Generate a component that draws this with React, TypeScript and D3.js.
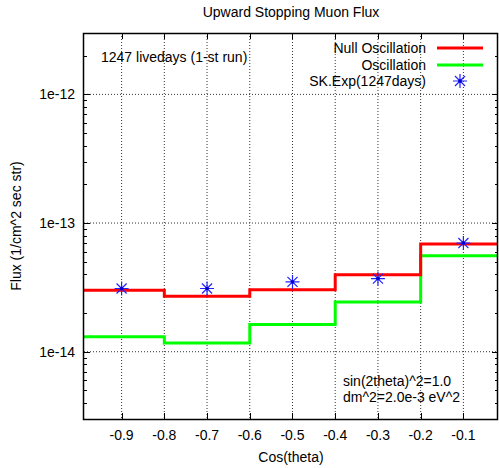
import React, { useRef, useEffect } from "react";
import { select, scaleLinear, scaleLog, line, curveStepAfter } from "d3";

// bin edges along cos(theta)
const binEdges = [-1.0, -0.8, -0.6, -0.4, -0.2, 0.0];
const nullOsc = [3.0e-14, 2.7e-14, 3.03e-14, 3.97e-14, 6.86e-14];
const withOsc = [1.31e-14, 1.17e-14, 1.63e-14, 2.44e-14, 5.58e-14];
const dataX = [-0.9, -0.7, -0.5, -0.3, -0.1];
const dataY = [3.1e-14, 3.1e-14, 3.49e-14, 3.7e-14, 6.99e-14];
const xTicks = [-0.9, -0.8, -0.7, -0.6, -0.5, -0.4, -0.3, -0.2, -0.1];
const yTicks = [1e-14, 1e-13, 1e-12];
const yTickLabels = ["1e-14", "1e-13", "1e-12"];
const legendItems = ["Null Oscillation", "Oscillation", "SK.Exp(1247days)"];

const WIDTH = 499;
const HEIGHT = 468;
const FONT = "'Liberation Sans', Arial, sans-serif";

export default function App() {
  const svgRef = useRef<SVGSVGElement>(null);

  useEffect(() => {
    const svg = select(svgRef.current);
    svg.selectAll("*").remove();

    const margin = { left: 84, right: 1, top: 33, bottom: 49 };
    const x = scaleLinear()
      .domain([-0.988, -0.019])
      .range([margin.left, WIDTH - margin.right]);
    const y = scaleLog()
      .domain([3e-15, 3e-12])
      .range([HEIGHT - margin.bottom, margin.top]);
    const [x0, x1] = x.range();
    const [yb, yt] = y.range();

    svg
      .append("defs")
      .append("clipPath")
      .attr("id", "plotclip")
      .append("rect")
      .attr("x", x0)
      .attr("y", yt)
      .attr("width", x1 - x0)
      .attr("height", yb - yt);

    // grid
    const grid = svg.append("g").attr("stroke", "#333").attr("stroke-width", 1).attr("stroke-dasharray", "1,2");
    xTicks.forEach((t) => {
      grid.append("line").attr("x1", x(t)).attr("x2", x(t)).attr("y1", yt).attr("y2", yb);
    });
    yTicks.forEach((t) => {
      grid.append("line").attr("x1", x0).attr("x2", x1).attr("y1", y(t)).attr("y2", y(t));
    });

    // ticks
    const ticks = svg.append("g").attr("stroke", "#000").attr("stroke-width", 1);
    xTicks.forEach((t) => {
      const px = Math.round(x(t)) + 0.5;
      ticks.append("line").attr("x1", px).attr("x2", px).attr("y1", yb).attr("y2", yb - 6);
      ticks.append("line").attr("x1", px).attr("x2", px).attr("y1", yt).attr("y2", yt + 6);
    });
    const minor: number[] = [];
    for (let e = -15; e <= -12; e++) {
      for (let m = 1; m <= 9; m++) {
        const v = m * Math.pow(10, e);
        if (v >= 3e-15 && v <= 3e-12) minor.push(v);
      }
    }
    minor.forEach((v) => {
      const major = yTicks.some((t) => Math.abs(t - v) / t < 1e-6);
      const len = major ? 6 : 3;
      const py = Math.round(y(v)) + 0.5;
      ticks.append("line").attr("x1", x0).attr("x2", x0 + len).attr("y1", py).attr("y2", py);
      ticks.append("line").attr("x1", x1).attr("x2", x1 - len).attr("y1", py).attr("y2", py);
    });

    // step curves
    const stepLine = line<number>()
      .x((_, i) => x(binEdges[i]))
      .y((d) => y(d))
      .curve(curveStepAfter);
    const plot = svg.append("g").attr("clip-path", "url(#plotclip)");
    plot
      .append("path")
      .datum([...withOsc, withOsc[withOsc.length - 1]])
      .attr("d", stepLine)
      .attr("fill", "none")
      .attr("stroke", "#00ff00")
      .attr("stroke-width", 3);
    plot
      .append("path")
      .datum([...nullOsc, nullOsc[nullOsc.length - 1]])
      .attr("d", stepLine)
      .attr("fill", "none")
      .attr("stroke", "#ff0000")
      .attr("stroke-width", 3);

    const r = 7;
    const d = r * 0.72;
    const starPath = `M${-r},0H${r}M0,${-r}V${r}M${-d},${-d}L${d},${d}M${-d},${d}L${d},${-d}`;
    const drawStar = (g: any, cx: number, cy: number) => {
      const s = g.append("g").attr("transform", `translate(${cx},${cy})`);
      s.append("path").attr("d", starPath).attr("stroke", "#2222ff").attr("stroke-width", 1.2).attr("fill", "none");
      s.append("circle").attr("r", 1.8).attr("fill", "#0000cc");
    };
    dataX.forEach((v, i) => drawStar(plot, x(v), y(dataY[i])));

    // frame
    svg
      .append("rect")
      .attr("x", x0 - 0.5)
      .attr("y", yt + 0.5)
      .attr("width", x1 - x0)
      .attr("height", yb - yt)
      .attr("fill", "none")
      .attr("stroke", "#000")
      .attr("stroke-width", 1.5);

    const text = (tx: number, ty: number, s: string, anchor = "start") =>
      svg
        .append("text")
        .attr("x", tx)
        .attr("y", ty)
        .attr("text-anchor", anchor)
        .attr("dominant-baseline", "central")
        .attr("font-family", FONT)
        .attr("font-size", 14)
        .attr("fill", "#000")
        .text(s);

    xTicks.forEach((t) => text(x(t), 435, String(t), "middle"));
    yTicks.forEach((t, i) => text(75, y(t), yTickLabels[i], "end"));
    text((x0 + x1) / 2, 12, "Upward Stopping Muon Flux", "middle");
    text((x0 + x1) / 2, 457, "Cos(theta)", "middle");
    text(0, 0, "Flux (1/cm^2 sec str)", "middle").attr(
      "transform",
      `translate(16,${(yt + yb) / 2}) rotate(-90)`
    );
    text(101, 57, "1247 livedays (1-st run)");
    text(343, 381, "sin(2theta)^2=1.0");
    text(343, 397, "dm^2=2.0e-3 eV^2");

    // legend
    const legendY = [48, 65, 81];
    const legendColors = ["#ff0000", "#00ff00"];
    legendItems.forEach((s, i) => {
      text(426, legendY[i], s, "end");
      if (i < 2) {
        svg
          .append("line")
          .attr("x1", 437)
          .attr("x2", 483)
          .attr("y1", legendY[i])
          .attr("y2", legendY[i])
          .attr("stroke", legendColors[i])
          .attr("stroke-width", 3);
      } else {
        drawStar(svg, 460, legendY[i]);
      }
    });
  }, []);

  return (
    <svg
      ref={svgRef}
      width={WIDTH}
      height={HEIGHT}
      style={{ position: "absolute", left: 0, top: 0, background: "#fff" }}
    />
  );
}
